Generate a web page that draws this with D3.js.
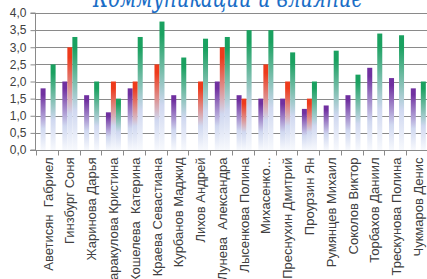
<!DOCTYPE html>
<html>
<head>
<meta charset="utf-8">
<script src="https://cdn.jsdelivr.net/npm/d3@7"></script>
<style>
  html, body { margin: 0; padding: 0; background: #fff; }
  svg { display: block; }
</style>
</head>
<body>
<div id="chart"></div>
<script>
// data
const names = [
  'Аветисян  Габриел', 'Гинзбург Соня', 'Жаринова Дарья', 'Каракулова Кристина',
  'Кошелева  Катерина', 'Краева Севастиана', 'Курбанов Маджид', 'Лихов Андрей',
  'Лунева  Александра', 'Лысенкова Полина', 'Михасенко...', 'Преснухин Дмитрий',
  'Проурзин Ян', 'Румянцев Михаил', 'Соколов Виктор', 'Торбахов Даниил',
  'Трескунова Полина', 'Чукмаров Денис'
];
const purpleVals = [1.8, 2.0, 1.6, 1.1, 1.8, 0, 1.6, 0, 2.0, 1.6, 1.5, 1.5, 1.2, 1.3, 1.6, 2.4, 2.1, 1.8];
const redVals    = [0, 3.0, 0, 2.0, 2.0, 2.5, 0, 2.0, 3.0, 1.5, 2.5, 2.0, 1.5, 0, 0, 0, 0, 0];
const greenVals  = [2.5, 3.3, 2.0, 1.5, 3.3, 3.75, 2.7, 3.25, 3.3, 3.5, 3.5, 2.85, 2.0, 2.9, 2.2, 3.4, 3.35, 2.0];
const seriesKeys = ['purple', 'red', 'green'];
const yTicks = [0, 0.5, 1, 1.5, 2, 2.5, 3, 3.5, 4];
const title = 'Коммуникации и влияние';

const width = 427, height = 279;
const colors = {purple: '#7030a0', red: '#ee3b1c', green: '#1aa160'};

const svg = d3.select('#chart').append('svg')
  .attr('width', width)
  .attr('height', height);

const defs = svg.append('defs');
seriesKeys.forEach(k => {
  const g = defs.append('linearGradient')
    .attr('id', 'grad-' + k)
    .attr('x1', 0).attr('y1', 0).attr('x2', 0).attr('y2', 1);
  g.append('stop').attr('offset', '0%').attr('stop-color', colors[k]);
  g.append('stop').attr('offset', '10%').attr('stop-color', colors[k]);
  g.append('stop').attr('offset', '65%').attr('stop-color', '#d0d8f0');
  g.append('stop').attr('offset', '100%').attr('stop-color', '#f7f9fd');
});

const x0 = d3.scaleBand().domain(names).range([36, 428]).padding(0);
const bw = x0.bandwidth();
const x1 = d3.scaleBand().domain(seriesKeys).range([bw * 0.21, bw * 0.9]).padding(0);
const y = d3.scaleLinear().domain([0, 4]).range([150, 13]);

// gridlines
svg.append('g')
  .selectAll('line')
  .data(yTicks.filter(d => d > 0))
  .join('line')
  .attr('x1', 36).attr('x2', width)
  .attr('y1', d => Math.round(y(d)) + 0.5)
  .attr('y2', d => Math.round(y(d)) + 0.5)
  .attr('stroke', '#8a8a8a')
  .attr('stroke-width', 1);

// title (cut by the top edge, as in the source)
svg.append('text')
  .attr('x', 228)
  .attr('y', 7)
  .attr('text-anchor', 'middle')
  .attr('textLength', 270)
  .attr('lengthAdjust', 'spacingAndGlyphs')
  .style('font-family', '"DejaVu Serif", serif')
  .style('font-style', 'italic')
  .style('font-size', '28px')
  .attr('fill', '#1b6ec6')
  .text(title);

// bars
const rows = names.map((n, i) => ({name: n, purple: purpleVals[i], red: redVals[i], green: greenVals[i]}));
const groups = svg.append('g')
  .selectAll('g')
  .data(rows)
  .join('g')
  .attr('transform', d => `translate(${x0(d.name)},0)`);

groups.selectAll('rect')
  .data(d => seriesKeys.map(k => ({key: k, value: d[k]})).filter(e => e.value > 0))
  .join('rect')
  .attr('x', d => x1(d.key))
  .attr('width', x1.bandwidth())
  .attr('y', d => y(d.value))
  .attr('height', d => y(0) - y(d.value))
  .attr('fill', d => `url(#grad-${d.key})`);

// y axis
const yAxis = d3.axisLeft(y)
  .tickValues(yTicks)
  .tickSize(5)
  .tickFormat(d => d3.format('.1f')(d).replace('.', ','));
const ya = svg.append('g')
  .attr('transform', 'translate(35.5,0)')
  .call(yAxis);
ya.select('.domain').attr('stroke', '#8a8a8a').attr('d', `M-5,${y(4)}H0V${y(0)}H-5`);
ya.selectAll('.tick line').attr('stroke', '#8a8a8a');
ya.selectAll('.tick text')
  .attr('x', -9)
  .style('font-family', '"Liberation Sans", Arial, sans-serif')
  .style('font-size', '12px')
  .attr('fill', '#404040');

// x axis
const xa = svg.append('g').attr('transform', `translate(0,${y(0) + 0.5})`);
xa.append('line')
  .attr('x1', 30).attr('x2', width)
  .attr('stroke', '#8a8a8a');
xa.selectAll('line.tk')
  .data(names)
  .join('line')
  .attr('class', 'tk')
  .attr('x1', d => Math.round(x0(d)) + 0.5)
  .attr('x2', d => Math.round(x0(d)) + 0.5)
  .attr('y1', 0).attr('y2', 5)
  .attr('stroke', '#8a8a8a');

xa.selectAll('text')
  .data(names)
  .join('text')
  .attr('transform', d => `translate(${x0(d) + bw * 0.555},7) rotate(-90)`)
  .attr('text-anchor', 'end')
  .attr('dy', '0.35em')
  .attr('xml:space', 'preserve')
  .style('white-space', 'pre')
  .style('font-family', '"Liberation Sans", Arial, sans-serif')
  .style('font-size', '13px')
  .attr('fill', '#404040')
  .text(d => d);
</script>
</body>
</html>
